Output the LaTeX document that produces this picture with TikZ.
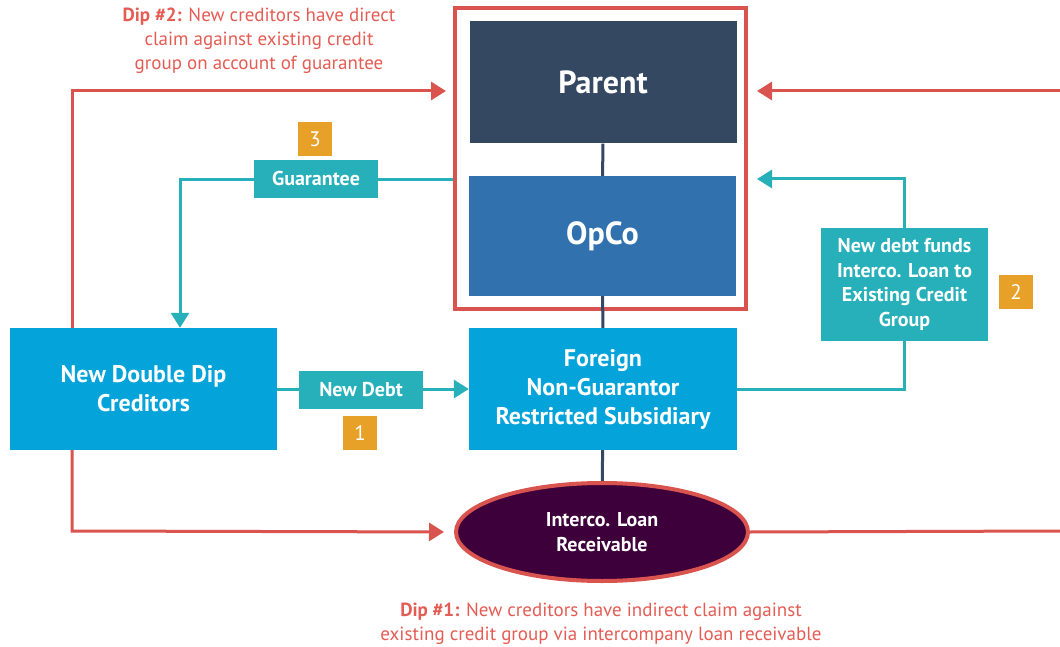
\documentclass[tikz,border=0pt]{standalone}
\usepackage{fontspec}
\setmainfont{PT Sans}
\usetikzlibrary{arrows.meta, shapes.geometric}
\definecolor{navyBox}{RGB}{52,72,98}
\definecolor{opcoBlue}{RGB}{49,114,174}
\definecolor{cyanBox}{RGB}{4,163,217}
\definecolor{tealBox}{RGB}{39,176,186}
\definecolor{badgeOrange}{RGB}{232,161,40}
\definecolor{dipRed}{RGB}{217,83,79}
\definecolor{dipText}{RGB}{228,92,84}
\definecolor{loanPlum}{RGB}{62,0,58}

\begin{document}
\begin{tikzpicture}[x=1pt, y=-1pt,
    entity/.style={rectangle, text=white, font=\bfseries\fontsize{24}{29}\selectfont, align=center, inner sep=0pt},
    flowbox/.style={rectangle, fill=tealBox, text=white, font=\bfseries\fontsize{20}{24.5}\selectfont, align=center, inner sep=0pt},
    badge/.style={rectangle, fill=badgeOrange, text=white, font=\fontsize{21}{21}\selectfont, minimum size=34pt, inner sep=0pt},
    redline/.style={draw=dipRed, line width=3pt, -{Triangle[length=15pt,width=18pt]}},
    tealline/.style={draw=tealBox, line width=3pt, -{Triangle[length=15pt,width=18pt]}},
    tieline/.style={draw=navyBox, line width=3pt},
    note/.style={text=dipText, font=\fontsize{19}{24}\selectfont, align=center}]
  \useasboundingbox (0,0) rectangle (1060,647);

  % Existing credit group
  \node[draw=dipRed, line width=4pt, minimum width=291pt, minimum height=301pt] (group) at (600.5,158.5) {};
  \node[entity, fill=navyBox, minimum width=267pt, minimum height=122pt, font=\bfseries\fontsize{32}{34}\selectfont] (parent) at (603,82.5) {Parent};
  \node[entity, fill=opcoBlue, minimum width=267pt, minimum height=120pt, font=\bfseries\fontsize{32}{34}\selectfont] (opco) at (602.5,236) {OpCo};

  % Subsidiary, creditors and loan
  \node[entity, fill=cyanBox, minimum width=268pt, minimum height=122pt] (foreign) at (603,389) {Foreign\\Non-Guarantor\\Restricted Subsidiary};
  \node[entity, fill=cyanBox, minimum width=267pt, minimum height=122pt] (ndd) at (143.5,389) {New Double Dip\\Creditors};
  \node[ellipse, draw=dipRed, line width=4pt, fill=loanPlum, text=white, minimum width=292pt, minimum height=98pt, inner sep=0pt, align=center, font=\bfseries\fontsize{20}{25}\selectfont] (loan) at (602,532) {Interco. Loan\\Receivable};

  % Ownership ties
  \draw[tieline] (parent) -- (opco);
  \draw[tieline] (opco) -- (foreign);
  \draw[tieline] (foreign) -- (loan);

  % Step 1
  \draw[tealline] (ndd.east) -- (foreign.west);
  \node[flowbox, minimum width=124pt, minimum height=38pt] (newdebt) at (361,390) {New Debt};
  \node[badge] (one) at (360,433) {1};

  % Step 2
  \coordinate (fundsin) at (757,179);
  \node[flowbox, minimum width=167pt, minimum height=113pt] (funds) at (904.5,284.5) {New debt funds\\Interco. Loan to\\Existing Credit\\Group};
  \draw[tealline, -] (foreign.east) -| (funds.south);
  \draw[tealline] (funds.north) |- (fundsin);
  \node[badge] (two) at (1016,292) {2};

  % Step 3
  \coordinate (guarturn) at (180,180);
  \draw[tealline] (group.west |- guarturn) -- (guarturn) -- (guarturn |- ndd.north);
  \node[flowbox, minimum width=124pt, minimum height=38pt] (guar) at (316,179) {Guarantee};
  \node[badge] (three) at (315,139) {3};

  % Dip #2
  \coordinate (diptop) at (72,91);
  \coordinate (rightin) at (1060,91);
  \draw[redline, shorten >=7pt] (ndd.north -| diptop) -- (diptop) -- (diptop -| group.west);
  \draw[redline, shorten >=9pt] (rightin) -- (rightin -| group.east);
  \node[note] (dip2) at (259,41) {\textbf{Dip \#2:} New creditors have direct\\claim against existing credit\\group on account of guarantee};

  % Dip #1
  \coordinate (dipbot) at (72,531);
  \coordinate (rightout) at (1060,531);
  \draw[redline, shorten >=10pt] (ndd.south -| dipbot) -- (dipbot) -- (loan.west);
  \draw[redline, -] (loan.east) -- (rightout);
  \node[note] (dip1) at (601,624) {\textbf{Dip \#1:} New creditors have indirect claim against\\existing credit group via intercompany loan receivable};
\end{tikzpicture}
\end{document}
